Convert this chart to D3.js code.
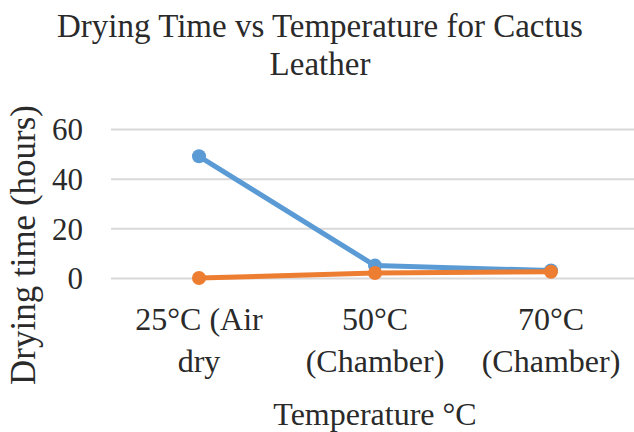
<!DOCTYPE html>
<html>
<head>
<meta charset="utf-8">
<script src="https://cdn.jsdelivr.net/npm/d3@7"></script>
<style>
  body { margin: 0; background: #fff; }
  svg text { font-family: "Liberation Serif", "Times New Roman", serif; fill: #2a2a2a; }
</style>
</head>
<body>
<div id="chart"></div>
<script>
// data
var categories = [['25°C (Air', 'dry'], ['50°C', '(Chamber)'], ['70°C', '(Chamber)']];
var seriesBlue = [49, 5, 3];
var seriesOrange = [0, 2, 2.5];
var yTicks = [0, 20, 40, 60];

var W = 634, H = 432;
var margin = { top: 129, left: 111, bottom: 154, right: -5 },
    width = W - margin.left - margin.right,
    height = H - margin.top - margin.bottom;

var svg = d3.select('#chart').append('svg')
    .attr('width', W)
    .attr('height', H);

var g = svg.append('g')
    .attr('transform', 'translate(' + margin.left + ',' + margin.top + ')');

var x = d3.scaleBand()
    .domain(d3.range(categories.length))
    .range([0, width]);

var y = d3.scaleLinear()
    .domain([0, 60])
    .range([height, 0]);

// gridlines + y tick labels
var yAxis = d3.axisLeft(y)
    .tickValues(yTicks)
    .tickSize(-width)
    .tickPadding(28);

var ya = g.append('g').call(yAxis).attr('font-family', null);
ya.select('.domain').remove();
ya.selectAll('line').attr('stroke', '#d9d9d9').attr('stroke-width', 2);
ya.selectAll('text')
    .style('font-size', '31px')
    .attr('dy', '0.35em');

// x labels (two lines each)
var xl = g.append('g');
categories.forEach(function (c, i) {
    var cx = x(i) + x.bandwidth() / 2;
    var t = xl.append('text')
        .attr('text-anchor', 'middle')
        .style('font-size', '32px')
        .attr('x', cx)
        .attr('y', 330 - margin.top);
    c.forEach(function (s, j) {
        t.append('tspan')
            .attr('x', cx)
            .attr('dy', j === 0 ? 0 : 42)
            .text(s);
    });
});

var line = d3.line()
    .x(function (d, i) { return x(i) + x.bandwidth() / 2; })
    .y(function (d) { return y(d); });

function drawSeries(vals, color) {
    g.append('path')
        .datum(vals)
        .attr('fill', 'none')
        .attr('stroke', color)
        .attr('stroke-width', 5)
        .attr('stroke-linejoin', 'round')
        .attr('d', line);
    g.selectAll(null)
        .data(vals)
        .enter()
        .append('circle')
        .attr('cx', function (d, i) { return x(i) + x.bandwidth() / 2; })
        .attr('cy', function (d) { return y(d); })
        .attr('r', 7)
        .attr('fill', color);
}
drawSeries(seriesBlue, '#5b9bd5');
drawSeries(seriesOrange, '#ed7d31');

// title
svg.append('text')
    .attr('text-anchor', 'middle')
    .attr('x', 320)
    .attr('y', 37)
    .style('font-size', '33px')
    .text('Drying Time vs Temperature for Cactus');
svg.append('text')
    .attr('text-anchor', 'middle')
    .attr('x', 320)
    .attr('y', 75)
    .style('font-size', '33px')
    .text('Leather');

// axis titles
svg.append('text')
    .attr('text-anchor', 'middle')
    .attr('x', 375)
    .attr('y', 425)
    .style('font-size', '32px')
    .text('Temperature °C');

svg.append('text')
    .attr('text-anchor', 'middle')
    .attr('transform', 'translate(35,245) rotate(-90)')
    .style('font-size', '35px')
    .text('Drying time (hours)');
</script>
</body>
</html>
